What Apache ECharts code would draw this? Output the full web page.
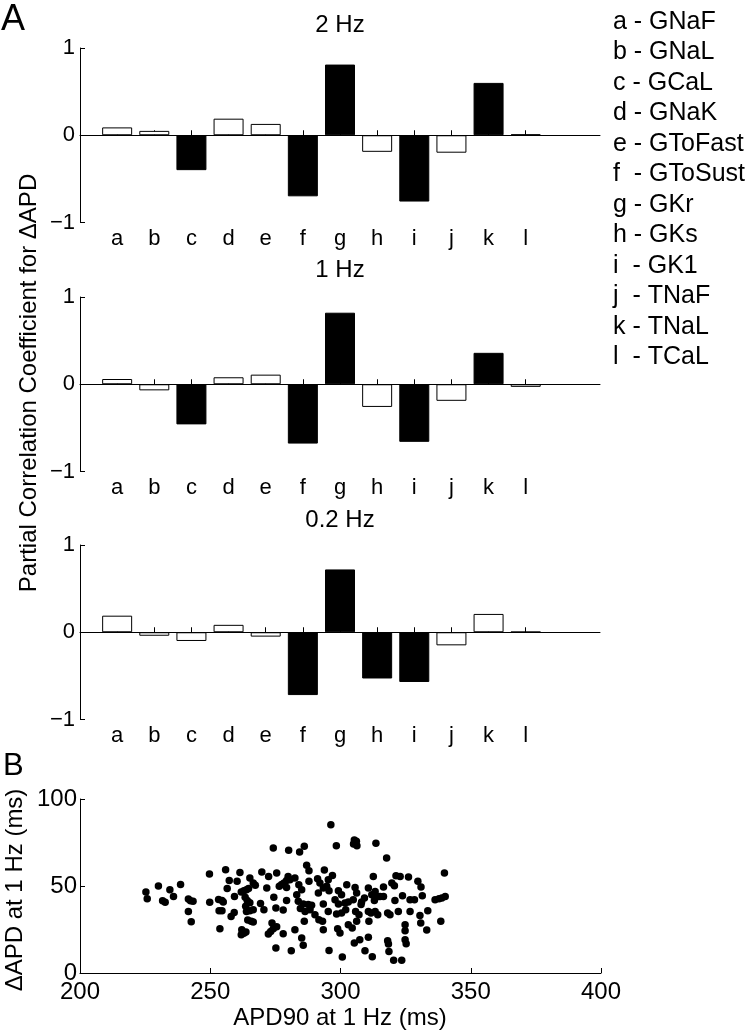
<!DOCTYPE html>
<html><head><meta charset="utf-8">
<script src="https://cdn.jsdelivr.net/npm/echarts@6/dist/echarts.min.js"></script>
<style>html,body{margin:0;padding:0;background:#fff}#c{width:747px;height:1032px}</style>
</head><body><div id="c"></div>
<script>
// ---------- DATA ----------
const categories = ['a','b','c','d','e','f','g','h','i','j','k','l'];
const legendNames = ['GNaF','GNaL','GCaL','GNaK','GToFast','GToSust','GKr','GKs','GK1','TNaF','TNaL','TCaL'];
const panelTitles = ['2 Hz','1 Hz','0.2 Hz'];
const values2Hz  = [0.09, 0.05, -0.40, 0.19, 0.13, -0.70, 0.81, -0.19, -0.76, -0.20, 0.60, 0.01];
const values1Hz  = [0.06, -0.07, -0.46, 0.08, 0.11, -0.68, 0.82, -0.26, -0.66, -0.19, 0.36, -0.03];
const values02Hz = [0.19, -0.04, -0.10, 0.085, -0.05, -0.72, 0.72, -0.53, -0.57, -0.15, 0.21, 0.005];
const significant2Hz  = ['c','f','g','i','k'];
const significant1Hz  = ['c','f','g','i','k'];
const significant02Hz = ['f','g','h','i'];
const barYTicks = [-1, 0, 1];
const scatterXTicks = [200, 250, 300, 350, 400];
const scatterYTicks = [0, 50, 100];
const panelLabels = ['A','B'];
const barAxisName = 'Partial Correlation Coefficient for \u0394APD';
const scatterXName = 'APD90 at 1 Hz (ms)';
const scatterYName = '\u0394APD at 1 Hz (ms)';

// APD90 at 1 Hz (ms)
const apd90 = [
225.3,225.8,230.1,231.7,232.7,234.5,235.9,238.6,241.6,242.4,243.4,241.6,242.7,249.7,249.8,253.7,253.2,254.5,255.0,253.4,
254.5,255.9,256.5,257.3,258.0,259.2,259.3,260.3,261.4,261.9,262.9,263.9,264.7,263.4,264.2,265.2,263.9,265.2,266.5,264.4,
265.7,266.5,262.1,261.9,262.9,263.7,265.2,266.5,267.3,269.3,270.6,269.8,271.7,272.4,272.3,273.2,274.2,275.5,273.7,274.2,
274.4,275.2,275.5,275.2,276.5,277.4,278.3,279.3,279.9,279.3,280.6,278.0,279.3,280.1,278.0,281.1,263.6,
296.3,298.4,305.3,306.1,305.0,306.3,313.6,317.7,284.3,286.1,287.0,287.9,293.8,296.9,295.3,312.6,321.3,322.9,326.1,339.9,
329.7,330.9,319.7,320.7,316.5,282.5,284.0,285.1,283.2,287.9,291.2,292.1,291.5,293.4,294.7,295.6,299.2,300.4,302.4,305.6,
306.2,304.9,310.7,312.0,313.3,314.5,313.0,309.2,308.1,307.9,316.5,323.8,320.9,326.7,328.4,331.4,336.3,337.8,338.9,340.2,
283.8,285.7,287.6,288.9,284.6,286.4,288.3,293.4,297.9,299.2,301.7,303.0,300.4,302.0,295.3,298.5,290.2,291.7,293.1,286.1,
305.8,307.1,306.2,310.7,311.7,313.3,314.3,310.9,318.1,319.0,322.2,326.7,330.5,330.8,333.5,338.5,282.5,293.4,298.9,299.8,
303.0,304.5,324.8,324.8,333.1,285.1,285.7,295.6,300.7,305.3,307.4,309.4,310.7,312.2,318.1,318.4,318.6,320.4,323.5,324.8,
325.2,315.2
];
// Delta APD at 1 Hz (ms)
const deltaAPD = [
46.5,42.7,50.0,41.5,40.6,47.9,43.9,50.9,42.5,41.5,41.2,35.4,29.5,56.9,40.6,25.5,42.3,41.6,40.8,35.8,
35.8,59.4,48.5,53.1,32.4,34.8,43.9,52.7,57.8,46.5,47.3,47.9,48.5,43.5,41.6,40.4,35.4,35.8,36.4,30.4,
29.7,29.3,24.9,22.0,22.8,23.5,54.6,51.7,50.4,40.0,36.4,58.0,48.8,55.4,22.4,23.9,25.5,26.6,28.7,71.8,
43.5,37.3,57.5,14.3,49.8,50.8,51.7,53.1,55.5,49.2,53.6,36.2,41.6,70.5,22.6,12.8,38.3,
85.2,73.2,76.4,75.7,74.1,73.2,74.5,66.1,69.5,72.8,61.9,58.8,59.2,56.1,53.6,55.5,55.9,55.5,55.2,57.5,
52.7,49.4,51.7,50.2,49.4,54.6,50.7,47.9,45.0,52.7,54.2,51.7,46.0,48.8,49.8,47.3,47.3,45.0,50.7,49.2,
46.0,42.1,48.8,45.0,46.9,44.0,41.6,43.1,40.8,39.3,44.0,44.4,41.6,42.1,42.1,44.4,42.1,42.7,43.1,43.9,
41.2,39.6,39.3,38.9,37.0,35.4,36.4,39.6,42.1,39.6,40.2,40.8,34.5,36.4,35.4,33.9,33.5,30.6,29.7,29.7,
35.4,33.5,29.7,35.4,34.5,35.4,33.5,29.7,34.5,33.5,35.4,35.4,33.1,28.7,35.8,29.7,24.9,24.9,25.5,23.0,
27.8,25.8,27.8,24.3,24.7,20.1,15.9,13.0,9.2,17.2,19.1,12.8,20.5,9.4,18.6,16.6,12.4,7.3,7.3,19.1,
16.8,44.0
];

// ---------- CHART ----------
const FONT = '"Liberation Sans", Arial, Helvetica, sans-serif';
const chart = echarts.init(document.getElementById('c'), null, {renderer: 'canvas', width: 747, height: 1032});

const panels = [
  {values: values2Hz, sig: significant2Hz},
  {values: values1Hz, sig: significant1Hz},
  {values: values02Hz, sig: significant02Hz}
];
const barGridTops = [48, 297, 545];
const barGridHeight = 174.5;
const titleCenters = [25, 270, 520];
const xCats = [''].concat(categories, ['', '']);
const shownIdx = (idx) => idx >= 1 && idx <= categories.length;
const minusFmt = (v) => (v < 0 ? '\u2212' + Math.abs(v) : String(v));

const grids = barGridTops.map(t => ({left: 80, width: 520, top: t, height: barGridHeight}));
grids.push({left: 80, width: 521, top: 799, height: 174});

const xAxes = panels.map((p, i) => ({
  gridIndex: i, type: 'category', data: xCats, boundaryGap: false,
  axisLine: {lineStyle: {color: '#000', width: 1}},
  axisTick: {inside: true, length: 5, interval: (idx) => shownIdx(idx), lineStyle: {color: '#000', width: 1}},
  axisLabel: {interval: (idx) => shownIdx(idx), color: '#000', fontSize: 22, fontFamily: FONT, margin: 5},
  splitLine: {show: false}
}));
xAxes.push({
  gridIndex: 3, type: 'value', min: scatterXTicks[0], max: scatterXTicks[scatterXTicks.length - 1],
  interval: scatterXTicks[1] - scatterXTicks[0],
  axisLine: {lineStyle: {color: '#000', width: 1}},
  axisTick: {inside: true, length: 5, lineStyle: {color: '#000', width: 1}},
  axisLabel: {color: '#000', fontSize: 24, fontFamily: FONT, margin: 7},
  splitLine: {show: false}
});

const yAxes = panels.map((p, i) => ({
  gridIndex: i, type: 'value', min: barYTicks[0], max: barYTicks[barYTicks.length - 1],
  interval: barYTicks[1] - barYTicks[0],
  axisLine: {show: true, lineStyle: {color: '#000', width: 1}},
  axisTick: {show: true, inside: true, length: 5, lineStyle: {color: '#000', width: 1}},
  axisLabel: {color: '#000', fontSize: 22, fontFamily: FONT, margin: 5, formatter: minusFmt},
  splitLine: {show: false}
}));
yAxes.push({
  gridIndex: 3, type: 'value', min: scatterYTicks[0], max: scatterYTicks[scatterYTicks.length - 1],
  interval: scatterYTicks[1] - scatterYTicks[0],
  axisLine: {show: true, lineStyle: {color: '#000', width: 1}},
  axisTick: {show: true, inside: true, length: 5, lineStyle: {color: '#000', width: 1}},
  axisLabel: {color: '#000', fontSize: 24, fontFamily: FONT, margin: 3},
  splitLine: {show: false}
});

const series = panels.map((p, i) => ({
  type: 'bar', xAxisIndex: i, yAxisIndex: i, barWidth: 30,
  data: categories.map((c, k) => ({
    value: [k + 1, p.values[k]],
    itemStyle: p.sig.indexOf(c) >= 0
      ? {color: '#000', borderColor: '#000', borderWidth: 1}
      : {color: '#fff', borderColor: '#000', borderWidth: 1}
  })),
  markLine: {
    silent: true, symbol: 'none', animation: false,
    label: {show: false},
    lineStyle: {color: '#000', width: 1, type: 'solid'},
    data: [{yAxis: 0}]
  }
}));
series.push({
  type: 'scatter', xAxisIndex: 3, yAxisIndex: 3, symbol: 'circle', symbolSize: 7.5,
  itemStyle: {color: '#000', opacity: 1},
  data: apd90.map((x, k) => [x, deltaAPD[k]])
});

const txt = (text, x, y, size, align, valign, rot) => ({
  type: 'text', x: x, y: y, rotation: rot || 0, silent: true,
  style: {text: text, font: size + 'px ' + FONT, fill: '#000',
    align: align, verticalAlign: valign, textAlign: align, textVerticalAlign: valign}
});

const narrow = ['f', 'i', 'j', 'l'];
const graphics = [];
graphics.push(txt(panelLabels[0], 1, 20, 36, 'left', 'middle'));
graphics.push(txt(panelLabels[1], 3, 766, 31, 'left', 'middle'));
panelTitles.forEach((t, i) => graphics.push(txt(t, 340, titleCenters[i], 24, 'center', 'middle')));
categories.forEach((c, i) => graphics.push(
  txt(c + (narrow.indexOf(c) >= 0 ? '  - ' : ' - ') + legendNames[i], 613, 22 + 30.5 * i, 25, 'left', 'middle')));
graphics.push(txt(barAxisName, 29, 383, 24, 'center', 'middle', Math.PI / 2));
graphics.push(txt(scatterYName, 15, 890, 24, 'center', 'middle', Math.PI / 2));
graphics.push(txt(scatterXName, 340, 1018, 24, 'center', 'middle'));

chart.setOption({
  animation: false,
  backgroundColor: '#fff',
  grid: grids,
  xAxis: xAxes,
  yAxis: yAxes,
  series: series,
  graphic: graphics
});
</script>
</body></html>
